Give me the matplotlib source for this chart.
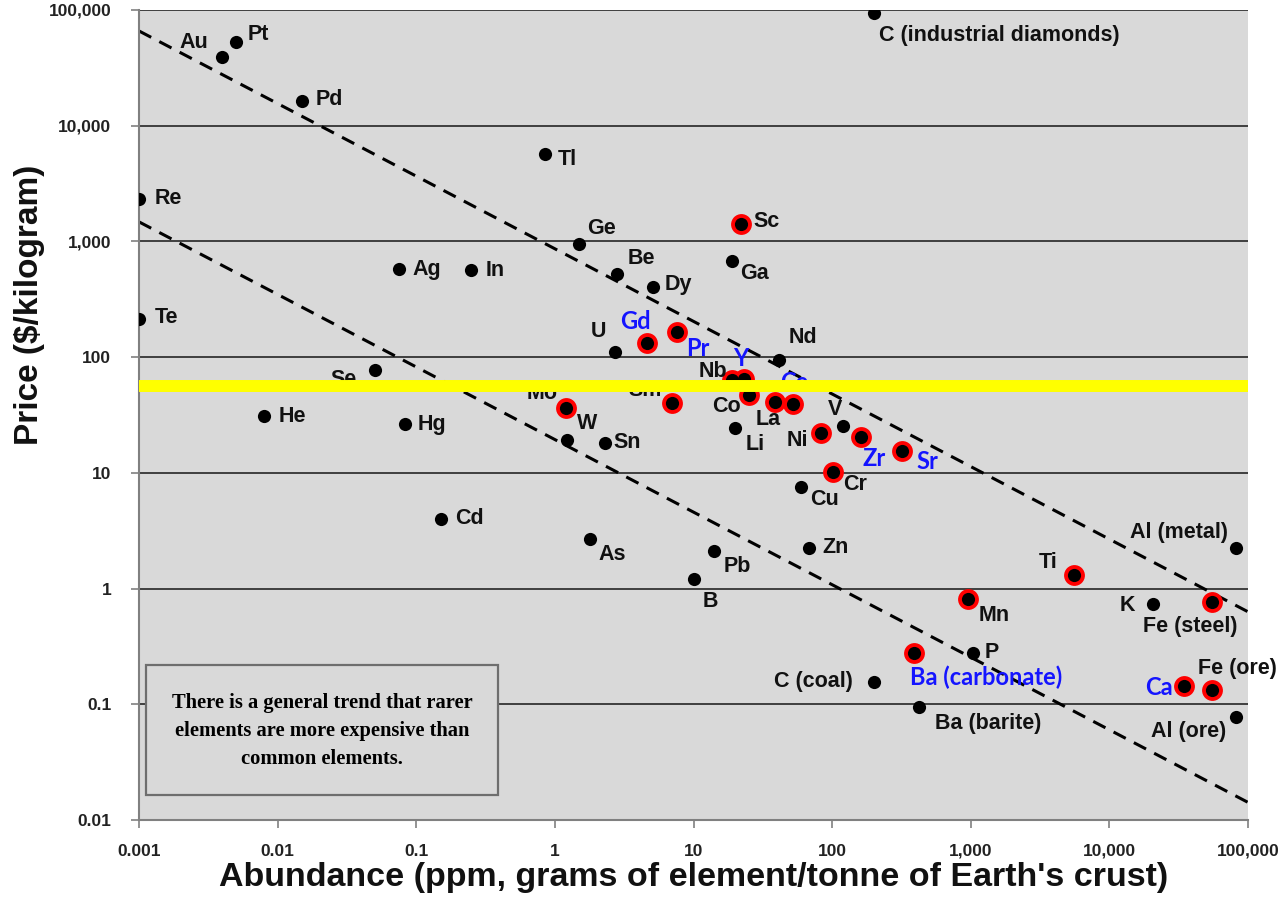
import matplotlib
matplotlib.use("Agg")
import matplotlib.pyplot as plt
from matplotlib.patches import Rectangle
from matplotlib.ticker import FuncFormatter, LogLocator, NullLocator

# element prices vs crustal abundance
elements = ["Au", "Pt", "Pd", "C (industrial diamonds)", "Tl", "Re", "Ge", "Sc", "Ag", "In",
            "Be", "Ga", "Dy", "Te", "U", "Gd", "Pr", "Nd", "Se", "Nb", "Y", "Mo", "Sm", "Ce",
            "Co", "La", "Li", "Ni", "V", "Zr", "Sr", "Cr", "Cu", "W", "Sn", "He", "Hg", "Cd",
            "As", "Pb", "B", "Zn", "Ti", "Mn", "Al (metal)", "K", "Fe (steel)", "P",
            "Ba (carbonate)", "C (coal)", "Ba (barite)", "Ca", "Fe (ore)", "Al (ore)"]
abundance = [0.004, 0.005, 0.015, 200, 0.85, 0.001, 1.5, 22, 0.075, 0.25,
             2.8, 19, 5.1, 0.001, 2.7, 4.6, 7.6, 41.5, 0.05, 19, 23, 1.2, 7.0, 52,
             25, 39, 20, 83, 120, 162, 320, 102, 60, 1.22, 2.3, 0.008, 0.083, 0.15,
             1.8, 14, 10, 68, 5570, 950, 82000, 20700, 55000, 1040,
             390, 200, 425, 34700, 55000, 82000]
price = [39000, 53000, 16400, 94000, 5700, 2330, 950, 1420, 580, 570,
         525, 680, 405, 215, 111, 133, 166, 95, 78, 64, 65, 36, 40, 39,
         47, 41, 24.6, 22, 25.6, 20.5, 15.6, 10.2, 7.6, 19.4, 18.2, 31, 26.6, 4.0,
         2.7, 2.13, 1.2, 2.26, 1.3, 0.82, 2.26, 0.73, 0.77, 0.275,
         0.28, 0.157, 0.094, 0.143, 0.132, 0.078]

# elements circled in red
circled = ["Sc", "Gd", "Pr", "Nb", "Y", "Mo", "Sm", "Ce", "Co", "La", "Ni", "Zr", "Sr",
           "Cr", "Ti", "Mn", "Fe (steel)", "Ba (carbonate)", "Ca", "Fe (ore)"]
blue_names = ["Gd", "Pr", "Y", "Ce", "Zr", "Sr", "Ba (carbonate)", "Ca"]

# dashed trend lines (end points)
trend_x = [0.001, 100000]
upper_y = [65900, 0.63]
lower_y = [1476, 0.0142]

highlight_price = 56  # yellow line

# label offsets in pixels (dx, dy, horizontal alignment)
offsets = {
    "Au": (-14, 15, "right"), "Pt": (12, 7, "left"), "Pd": (14, 1, "left"),
    "C (industrial diamonds)": (5, -22, "left"), "Tl": (13, -6, "left"),
    "Re": (16, 0, "left"), "Ge": (8, 16, "left"), "Sc": (12, 2, "left"),
    "Ag": (14, -1, "left"), "In": (14, -1, "left"), "Be": (11, 15, "left"),
    "Ga": (8, -13, "left"), "Dy": (12, 2, "left"), "Te": (16, 1, "left"),
    "U": (-8, 20, "right"), "Gd": (-11, 21, "center"), "Pr": (9, -17, "left"),
    "Nd": (9, 22, "left"), "Se": (-18, -10, "right"), "Nb": (-5, 8, "right"),
    "Y": (-3, 20, "center"), "Mo": (-8, 15, "right"), "Sm": (-10, 13, "right"),
    "Ce": (1, 22, "center"), "Co": (-8, -11, "right"), "La": (-7, -18, "center"),
    "Li": (10, -17, "left"), "Ni": (-13, -7, "right"), "V": (-8, 16, "center"),
    "Zr": (1, -22, "left"), "Sr": (14, -11, "left"), "Cr": (10, -13, "left"),
    "Cu": (9, -13, "left"), "W": (10, 16, "left"), "Sn": (8, 0, "left"),
    "He": (14, -1, "left"), "Hg": (13, -1, "left"), "Cd": (14, 0, "left"),
    "As": (8, -16, "left"), "Pb": (10, -16, "left"), "B": (9, -22, "left"),
    "Zn": (13, 0, "left"), "Ti": (-17, 13, "right"), "Mn": (11, -17, "left"),
    "Al (metal)": (-8, 15, "right"), "K": (-18, -1, "right"),
    "Fe (steel)": (-22, -25, "center"), "P": (12, 1, "left"),
    "Ba (carbonate)": (-4, -25, "left"), "C (coal)": (-21, 0, "right"),
    "Ba (barite)": (16, -16, "left"), "Ca": (-12, -1, "right"),
    "Fe (ore)": (-14, 22, "left"), "Al (ore)": (-10, -15, "right"),
}

plt.rcParams['font.family'] = ['Liberation Sans', 'DejaVu Sans']
plt.rcParams['font.weight'] = 'bold'

bg = '#d9d9d9'
fig = plt.figure(figsize=(12.8, 9), dpi=100)
fig.patch.set_facecolor('white')
ax = fig.add_axes([139 / 1280, 80 / 900, 1109 / 1280, 810 / 900])
ax.set_facecolor(bg)
ax.set_xscale('log')
ax.set_yscale('log')
ax.set_xlim(0.001, 100000)
ax.set_ylim(0.01, 100000)

# ticks and grid
ax.xaxis.set_major_locator(LogLocator(base=10, numticks=20))
ax.yaxis.set_major_locator(LogLocator(base=10, numticks=20))
ax.xaxis.set_minor_locator(NullLocator())
ax.yaxis.set_minor_locator(NullLocator())
fmt = FuncFormatter(lambda v, p: f"{v:,.0f}" if v >= 1 else f"{v:g}")
ax.xaxis.set_major_formatter(fmt)
ax.yaxis.set_major_formatter(fmt)
ax.tick_params(axis='both', direction='out', length=6, width=1.2, color='#808080',
               labelsize=12.5, labelcolor='#222222')
ax.tick_params(axis='y', pad=14)
ax.tick_params(axis='x', pad=11)
ax.yaxis.grid(True, color='#333333', linewidth=1.3, zorder=1)
ax.set_axisbelow(True)
for side in ['top', 'right']:
    ax.spines[side].set_visible(False)
for side in ['left', 'bottom']:
    ax.spines[side].set_color('#808080')
    ax.spines[side].set_linewidth(1.5)

# trend lines
for ty in [upper_y, lower_y]:
    ax.plot(trend_x, ty, color='black', linewidth=2.2, dashes=(4.5, 3), zorder=2,
            solid_capstyle='butt')

# points
red_x = [a for e, a in zip(elements, abundance) if e in circled]
red_y = [p for e, p in zip(elements, price) if e in circled]
ax.scatter(red_x, red_y, s=225, color='#ff0000', linewidths=0, zorder=3)
ax.scatter(abundance, price, s=90, color='black', linewidths=0, zorder=4)

# labels
for e, a, p in zip(elements, abundance, price):
    dx, dy, ha = offsets[e]
    if e in blue_names:
        ax.annotate(e, (a, p), xytext=(dx, dy), textcoords='offset pixels', ha=ha,
                    va='center', fontsize=17, color='#1414ff',
                    family=['Lato', 'DejaVu Sans'], fontweight='bold', zorder=5,
                    annotation_clip=False)
    else:
        ax.annotate(e, (a, p), xytext=(dx, dy), textcoords='offset pixels', ha=ha,
                    va='center', fontsize=15.5, color='#111111', zorder=5,
                    annotation_clip=False)

# yellow highlight line
ax.axhline(highlight_price, color='#ffff00', linewidth=8.6, zorder=6)

# note box
ax.add_patch(Rectangle((0.0063, 0.0309), 0.3174, 0.160, transform=ax.transAxes,
                       facecolor=bg, edgecolor='#6e6e6e', linewidth=1.6, zorder=7))
ax.text(0.1651, 0.1099,
        "There is a general trend that rarer\nelements are more expensive than\ncommon elements.",
        transform=ax.transAxes, ha='center', va='center', fontsize=14.8,
        family=['Liberation Serif', 'DejaVu Serif'], fontweight='bold',
        linespacing=1.55, color='black', zorder=8)

# axis titles
ax.set_xlabel("Abundance (ppm, grams of element/tonne of Earth's crust)",
              fontsize=24.5, fontweight='bold', color='#111111', ha='center', va='center')
ax.xaxis.set_label_coords(0.5005, -0.0716)
ax.set_ylabel("Price ($/kilogram)", fontsize=24, fontweight='bold', color='#111111',
              ha='center', va='center')
ax.yaxis.set_label_coords(-0.0983, 0.6358)

fig.savefig('out.png', dpi=100, facecolor='white')
